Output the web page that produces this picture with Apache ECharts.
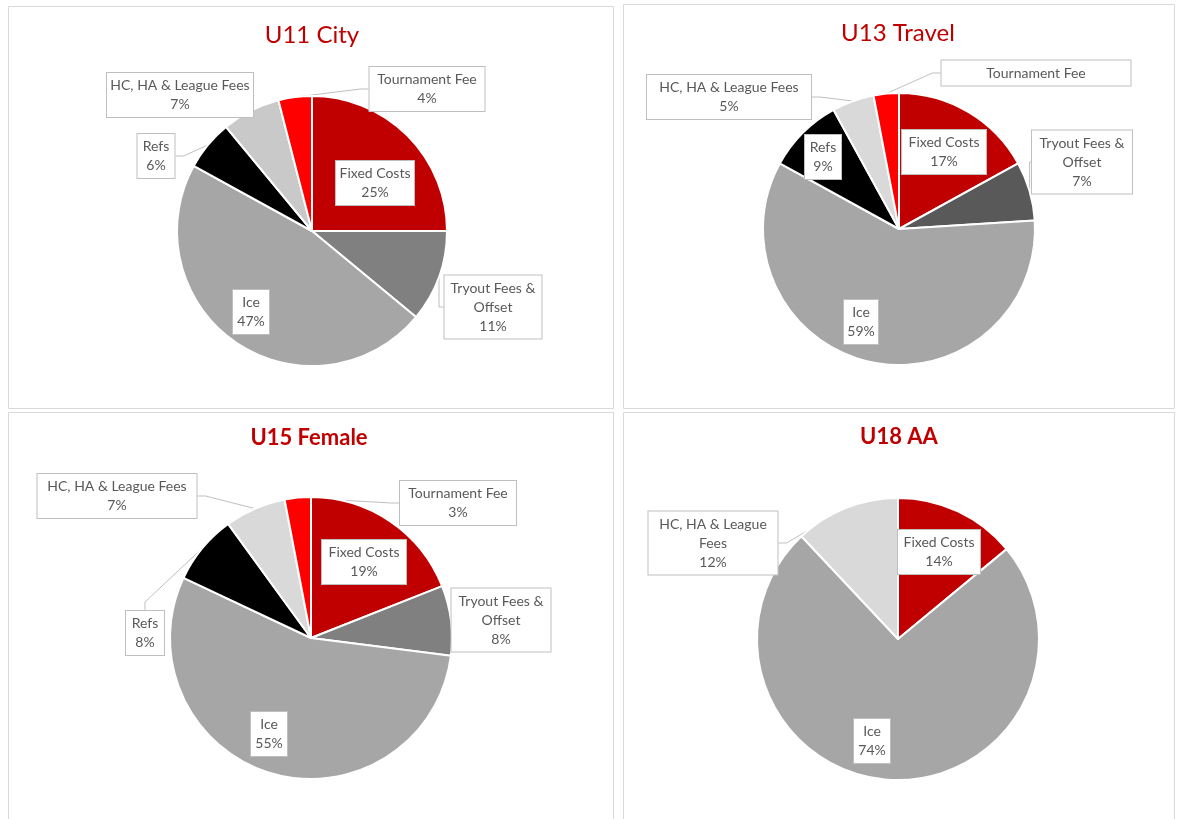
<!DOCTYPE html>
<html>
<head>
<meta charset="utf-8">
<script src="https://cdn.jsdelivr.net/npm/echarts@6/dist/echarts.min.js"></script>
<style>
html, body { margin: 0; padding: 0; background: #fff; }
#main { width: 1185px; height: 819px; }
</style>
</head>
<body>
<div id="main"></div>
<script>
var myChart = echarts.init(document.getElementById('main'));

// data (percent of budget)
var categories = ['Fixed Costs', 'Tryout Fees & Offset', 'Ice', 'Refs', 'HC, HA & League Fees', 'Tournament Fee'];
var u11City   = [25, 11, 47, 6, 7, 4];
var u13Travel = [17, 7, 59, 9, 5, 3];
var u15Female = [19, 8, 55, 8, 7, 3];
var u18AA     = [14, 0, 74, 0, 12, 0];

// layout of each panel: pie centre/radius, title, callout boxes [cx, cy, boxWidth]
var panels = [
    {
        title: 'U11 City', bold: false, values: u11City,
        rect: [8, 6, 605, 402], titlePos: [312, 35], center: [312, 231], radius: 135,
        colors: ['#c00000', '#808080', '#a6a6a6', '#000000', '#c9c9c9', '#ff0000'],
        boxes: {
            'Fixed Costs': [375, 183, 78],
            'Tryout Fees & Offset': [493, 307, 97],
            'Ice': [251, 312, 36],
            'Refs': [156, 156, 37],
            'HC, HA & League Fees': [180, 95, 146],
            'Tournament Fee': [427, 89, 115]
        },
        wrap: {'Tryout Fees & Offset': 'Tryout Fees &\nOffset'},
        noPct: []
    },
    {
        title: 'U13 Travel', bold: false, values: u13Travel,
        rect: [623, 4, 551, 404], titlePos: [898, 33], center: [899, 229], radius: 136,
        colors: ['#c00000', '#595959', '#a6a6a6', '#000000', '#d9d9d9', '#ff0000'],
        boxes: {
            'Fixed Costs': [944, 152, 84],
            'Tryout Fees & Offset': [1082, 162, 100],
            'Ice': [861, 322, 34],
            'Refs': [823, 157, 36],
            'HC, HA & League Fees': [729, 97, 164],
            'Tournament Fee': [1036, 73, 189]
        },
        wrap: {'Tryout Fees & Offset': 'Tryout Fees &\nOffset'},
        noPct: ['Tournament Fee']
    },
    {
        title: 'U15 Female', bold: true, values: u15Female,
        rect: [8, 412, 605, 412], titlePos: [309, 438], center: [311, 638], radius: 141,
        colors: ['#c00000', '#808080', '#a6a6a6', '#000000', '#d9d9d9', '#ff0000'],
        boxes: {
            'Fixed Costs': [364, 562, 84],
            'Tryout Fees & Offset': [501, 620, 99],
            'Ice': [269, 734, 36],
            'Refs': [145, 633, 38],
            'HC, HA & League Fees': [117, 496, 159],
            'Tournament Fee': [458, 503, 116]
        },
        wrap: {'Tryout Fees & Offset': 'Tryout Fees &\nOffset'},
        noPct: []
    },
    {
        title: 'U18 AA', bold: true, values: u18AA,
        rect: [623, 412, 551, 412], titlePos: [899, 437], center: [898, 639], radius: 141,
        colors: ['#c00000', '#808080', '#a6a6a6', '#000000', '#d9d9d9', '#ff0000'],
        boxes: {
            'Fixed Costs': [939, 552, 82],
            'Ice': [872, 741, 36],
            'HC, HA & League Fees': [713, 543, 129]
        },
        wrap: {'HC, HA & League Fees': 'HC, HA & League\nFees'},
        noPct: []
    }
];

var graphics = [];
var series = [];

panels.forEach(function (p, si) {
    graphics.push({
        type: 'rect', silent: true, z: -10,
        shape: {x: p.rect[0] + 0.5, y: p.rect[1] + 0.5, width: p.rect[2], height: p.rect[3]},
        style: {fill: '#fff', stroke: '#d9d9d9', lineWidth: 1}
    });
    graphics.push({
        type: 'text', silent: true, z: 10,
        x: p.titlePos[0], y: p.titlePos[1],
        style: {
            text: p.title, fill: '#c00000', align: 'center', verticalAlign: 'middle',
            font: (p.bold ? 'bold 22px' : '24px') + ' Lato, "Open Sans", sans-serif'
        }
    });

    var items = [];
    categories.forEach(function (c, i) {
        if (!p.values[i]) return;
        var inside = (c === 'Fixed Costs' || c === 'Ice');
        items.push({
            name: c,
            value: p.values[i],
            itemStyle: {color: p.colors[i]},
            label: {width: p.boxes[c][2] - 8},
            labelLine: {show: !inside}
        });
    });

    series.push({
        type: 'pie',
        center: p.center,
        radius: p.radius,
        startAngle: 90,
        clockwise: true,
        animation: false,
        avoidLabelOverlap: false,
        itemStyle: {borderColor: '#fff', borderWidth: 2},
        label: {
            show: true,
            position: 'outside',
            color: '#595959',
            fontFamily: 'Lato, "Open Sans", sans-serif',
            fontSize: 14,
            lineHeight: 19,
            align: 'center',
            overflow: 'none',
            backgroundColor: '#fff',
            borderColor: '#bfbfbf',
            borderWidth: 1,
            padding: [3, 4],
            formatter: function (params) {
                var name = p.wrap[params.name] || params.name;
                if (p.noPct.indexOf(params.name) >= 0) return name;
                return name + '\n' + Math.round(params.percent) + '%';
            }
        },
        labelLine: {
            show: true, length: 8, length2: 8, smooth: false,
            lineStyle: {color: '#bfbfbf', width: 1}
        },
        labelLayout: function (params) {
            var b = p.boxes[items[params.dataIndex].name];
            return {x: b[0], y: b[1], align: 'center', verticalAlign: 'middle'};
        },
        data: items
    });
});

var option = {
    backgroundColor: '#fff',
    graphic: graphics,
    series: series
};

myChart.setOption(option);
</script>
</body>
</html>
